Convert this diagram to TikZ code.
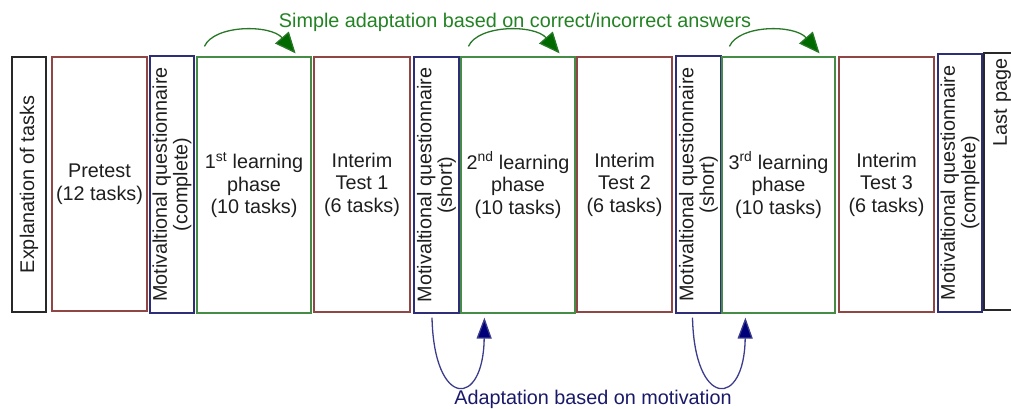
\documentclass[tikz,border=0pt]{standalone}
\usepackage{fontspec}
\setmainfont{Liberation Sans}
\usetikzlibrary{arrows.meta,calc}
\definecolor{cred}{RGB}{145,70,70}
\definecolor{cgreen}{RGB}{70,140,70}
\definecolor{cblue}{RGB}{45,45,120}
\definecolor{cblack}{RGB}{40,40,40}
\definecolor{txt}{RGB}{30,30,30}
\definecolor{gtext}{RGB}{35,130,35}
\definecolor{garc}{RGB}{40,120,40}
\definecolor{ghead}{RGB}{0,105,0}
\definecolor{btext}{RGB}{25,25,105}
\definecolor{barc}{RGB}{60,60,140}
\definecolor{bhead}{RGB}{0,0,120}
\begin{document}
\begin{tikzpicture}[x=1pt,y=-1pt,
  box/.style={draw, line width=1.2pt, inner sep=0pt, align=center, text=txt,
    font=\fontsize{19.8}{22.5}\selectfont},
  vbox/.style={box, rotate=90, font=\fontsize{19.8}{20.5}\selectfont},
  redbox/.style={box, draw=cred},
  greenbox/.style={box, draw=cgreen},
  bluebox/.style={vbox, draw=cblue},
  garrow/.style={draw=garc, line width=1.3pt, -{Triangle[length=21pt,width=18pt,fill=ghead]}},
  barrow/.style={draw=barc, line width=1.3pt, -{Triangle[length=21pt,width=15pt,fill=bhead]}},
  lbl/.style={inner sep=0pt, font=\fontsize{19.8}{22.5}\selectfont}
]
\useasboundingbox (0,0) rectangle (1011,408);
\clip (0,0) rectangle (1011,408);

\node[vbox, draw=cblack, minimum width=255pt, minimum height=34pt] (expl) at (29,184.5) {Explanation of tasks};
\node[redbox, minimum width=95pt, minimum height=254pt] (pre) at (99.5,184) {Pretest\\(12 tasks)};
\node[bluebox, minimum width=257pt, minimum height=44pt] (mq1) at (172,184.5) {Motivaltional questionnaire\\(complete)};
\node[greenbox, minimum width=114pt, minimum height=256pt] (l1) at (254,185) {1\textsuperscript{st} learning\\phase\\(10 tasks)};
\node[redbox, minimum width=96pt, minimum height=255pt] (it1) at (362,184.5) {Interim\\Test 1\\(6 tasks)};
\node[bluebox, minimum width=256pt, minimum height=45pt] (ms1) at (436.5,185) {Motivaltional questionnaire\\(short)};
\node[greenbox, minimum width=114pt, minimum height=256pt] (l2) at (518,185) {2\textsuperscript{nd} learning\\phase\\(10 tasks)};
\node[redbox, minimum width=95pt, minimum height=255pt] (it2) at (624.5,184.5) {Interim\\Test 2\\(6 tasks)};
\node[bluebox, minimum width=257pt, minimum height=45pt] (ms2) at (698.5,184.5) {Motivaltional questionnaire\\(short)};
\node[greenbox, minimum width=113pt, minimum height=256pt] (l3) at (778.5,185) {3\textsuperscript{rd} learning\\phase\\(10 tasks)};
\node[redbox, minimum width=95pt, minimum height=255pt] (it3) at (886.5,184.5) {Interim\\Test 3\\(6 tasks)};
\node[bluebox, minimum width=258pt, minimum height=44pt] (mq2) at (960,183) {Motivaltional questionnaire\\(complete)};
\node[vbox, draw=cblack, minimum width=257pt, minimum height=36pt, text width=247pt, align=right, inner xsep=5pt] (last) at (1002,181.5) {Last page};

% green adaptation arcs
\foreach \l in {l1,l2,l3}{
  \coordinate (\l gs) at ($(\l.north west)+(8,-10)$);
  \coordinate (\l ge) at ($(\l.north east)+(-16,-3)$);
  \draw[garrow] (\l gs) .. controls +(10,-22) and +(-25,-29) .. (\l ge);
}
\node[lbl, text=gtext, anchor=base] (toptext) at (515,27.5) {Simple adaptation based on correct/incorrect answers};

% blue motivation arcs
\coordinate (b1s) at ($(ms1.west)+(-4.5,4)$);
\coordinate (b1e) at ($(l2.south west)+(24,4)$);
\coordinate (b2s) at ($(ms2.west)+(-6,4)$);
\coordinate (b2e) at ($(l3.south west)+(24,4)$);
\draw[barrow] (b1s) .. controls +(2,91) and +(-1,91) .. (b1e);
\draw[barrow] (b2s) .. controls +(2,91) and +(-1,91) .. (b2e);
\node[lbl, text=btext, anchor=base] (bottext) at (593,404) {Adaptation based on motivation};
\end{tikzpicture}
\end{document}
